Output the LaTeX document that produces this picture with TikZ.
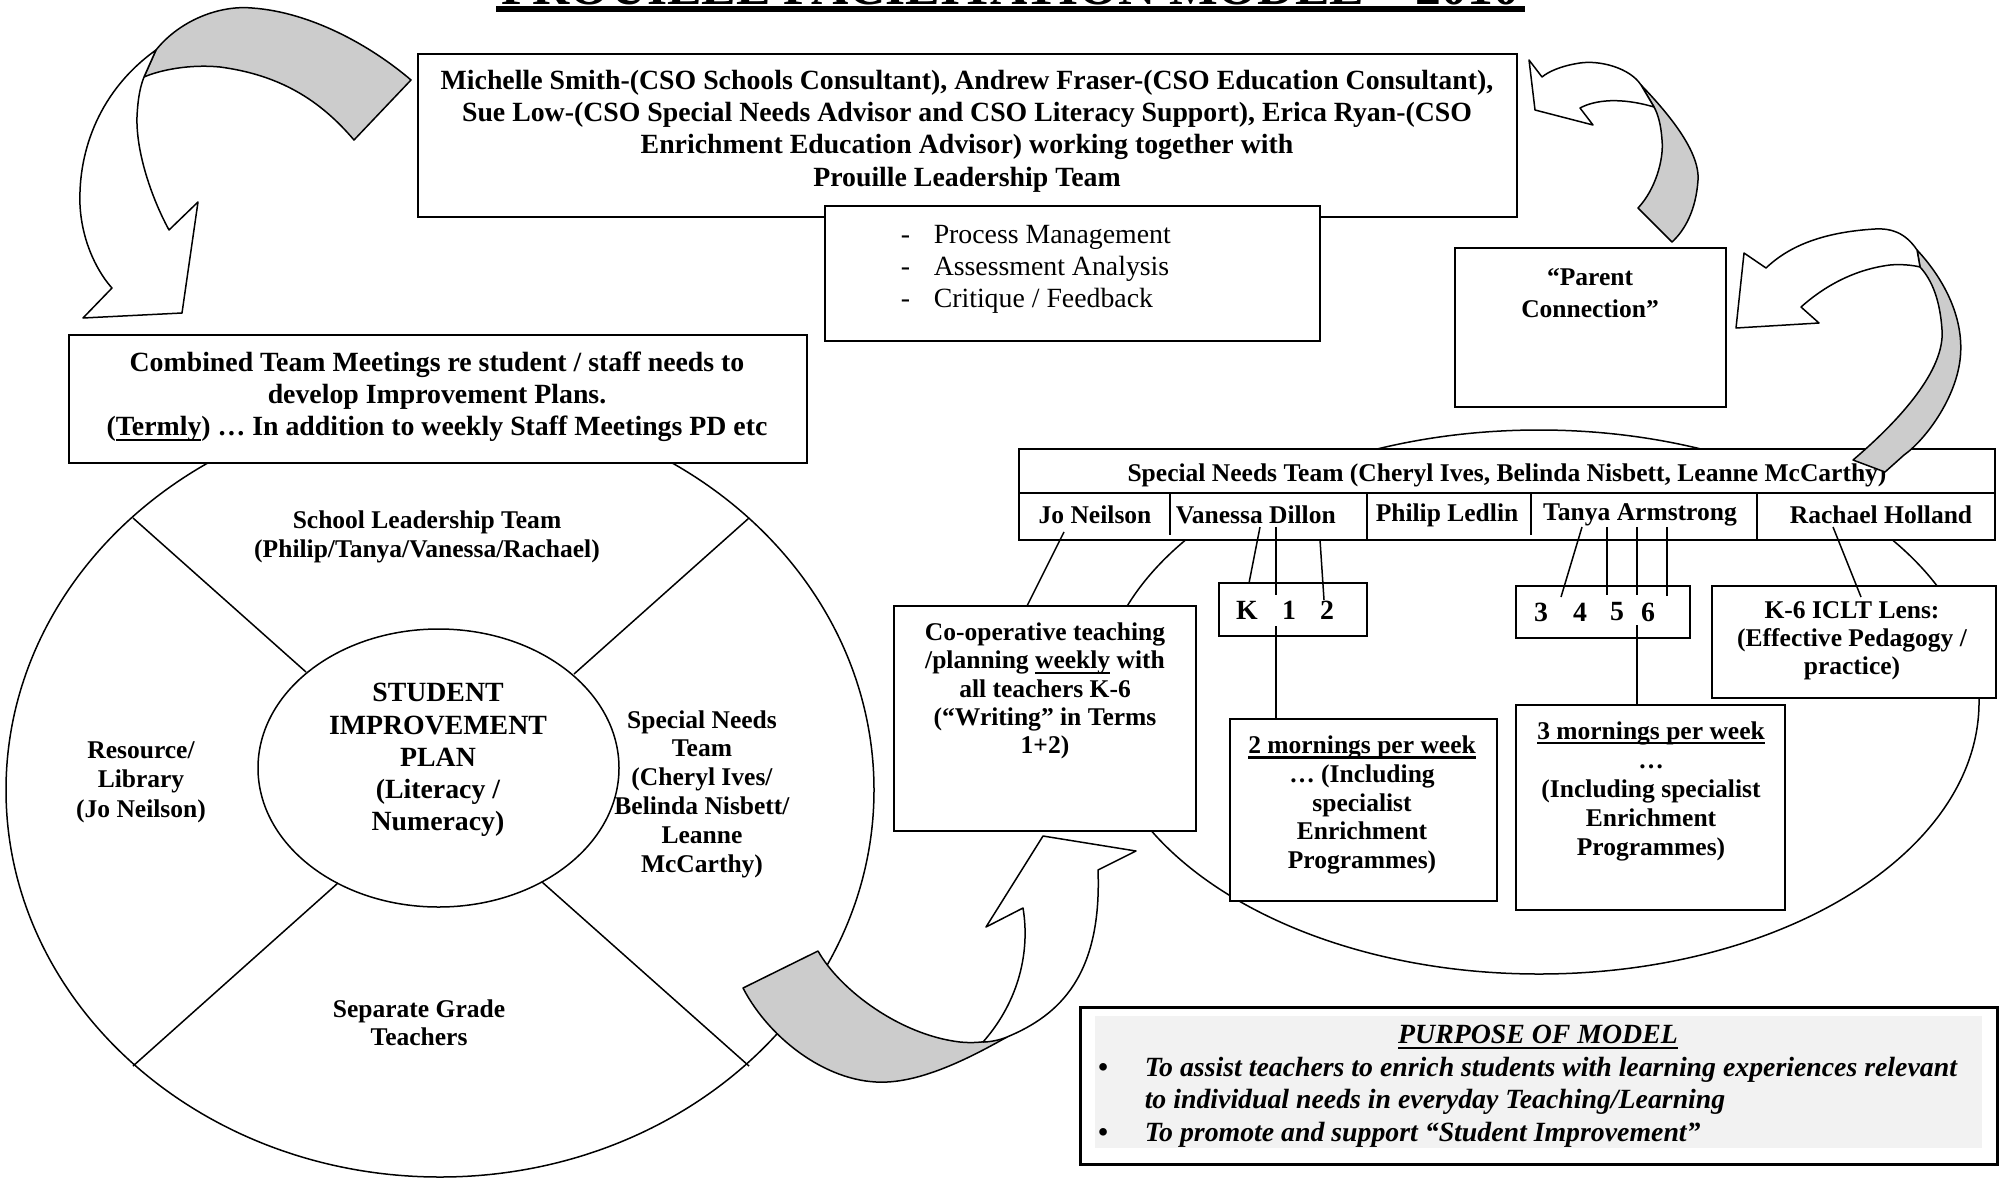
\documentclass[tikz,border=0pt]{standalone}
\usepackage{fontspec}
\setmainfont{Liberation Serif}
\usetikzlibrary{fit}

\definecolor{flapgray}{RGB}{204,204,204}
\definecolor{panelgray}{RGB}{242,242,242}

% underline with a rule of fixed weight
\newsavebox{\ulnbox}
\newcommand{\uln}[1]{\leavevmode\sbox{\ulnbox}{#1}\rlap{\rule[-2.6pt]{\wd\ulnbox}{1.1pt}}\usebox{\ulnbox}}

\tikzset{every picture/.style={line width=0.75pt}}
\tikzset{
  box/.style={draw, fill=white, line width=1pt, inner sep=0pt},
  lbl/.style={inner sep=0pt, align=center, font=\fontsize{13.9}{#1}\selectfont\bfseries},
  lbl/.default={14.5},
  lbs/.style={inner sep=0pt, align=center, font=\fontsize{12.76}{#1}\selectfont\bfseries},
  lbs/.default={14.5},
  plain/.style={inner sep=0pt, align=left, font=\fontsize{13.9}{16}\selectfont},
  aim/.style={inner sep=0pt, align=left, font=\fontsize{13.9}{16.25}\selectfont\bfseries\itshape},
  flapfront/.style={draw, fill=white, line width=0.75pt, line join=round},
  flapback/.style={draw, fill=flapgray, line width=0.75pt, line join=round},
}

\begin{document}
\begin{tikzpicture}[x=0.5pt,y=0.5pt,yscale=-1,xscale=1]
\useasboundingbox (0,0) rectangle (2005,1178);

%Shape: Ellipse [special needs ring]
\draw (1539,702) ellipse [x radius=440, y radius=272];

%Shape: Ellipse [school ring]
\draw (440,790) ellipse [x radius=434, y radius=387];
%Straight Lines [ring spokes]
\draw (133,518) -- (306,672);
\draw (749,518) -- (574,674);
\draw (133,1066) -- (338,883);
\draw (749,1066) -- (542,882);
%Shape: Ellipse [plan]
\draw (438.5,768) ellipse [x radius=180.5, y radius=139];

% Text Node
\draw (438,760) node (plan) [lbl=16.1] {STUDENT\\IMPROVEMENT\\PLAN\\(Literacy /\\Numeracy)};
% Text Node
\draw (427,537) node (slt) [lbs] {School Leadership Team\\(Philip/Tanya/Vanessa/Rachael)};
% Text Node
\draw (141,782) node (res) [lbs=14.75] {Resource/\\Library\\(Jo Neilson)};
% Text Node
\draw (702,794) node (snring) [lbs=14.4] {Special Needs\\Team\\(Cheryl Ives/\\Belinda Nisbett/\\Leanne\\McCarthy)};
% Text Node
\draw (419,1023) node (grade) [lbs=14] {Separate Grade\\Teachers};

%Shape: Rectangle [consultants]
\node [box, fit={(418,54) (1517,217)}] (lead) {};
\draw (967,131) node (leadtxt) [lbl=16.15] {Michelle Smith-(CSO Schools Consultant), Andrew Fraser-(CSO Education Consultant),\\Sue Low-(CSO Special Needs Advisor and CSO Literacy Support), Erica Ryan-(CSO\\Enrichment Education Advisor) working together with\\Prouille Leadership Team};

%Shape: Rectangle [tasks]
\node [box, fit={(825,206) (1320,341)}] (tasks) {};
\draw (900,269) node (taskstxt) [plain, anchor=west] {\makebox[16.5pt][l]{-}Process Management\\\makebox[16.5pt][l]{-}Assessment Analysis\\\makebox[16.5pt][l]{-}Critique / Feedback};

%Shape: Rectangle [parent]
\node [box, fit={(1455,248) (1726,407)}] (parent) {};
\draw (1590,293) node (parenttxt) [lbs=16] {“Parent\\Connection”};

%Shape: Rectangle [meetings]
\node [box, fit={(69,335) (807,463)}] (meet) {};
\draw (437,397) node (meettxt) [lbl=16] {Combined Team Meetings re student / staff needs to\\develop Improvement Plans.\\(\uln{Termly}) … In addition to weekly Staff Meetings PD etc};

%Shape: Table [special needs team]
\node [box, fit={(1019,449) (1995,540)}] (team) {};
\draw [line width=1pt] (1019,493) -- (1995,493);
\draw [line width=1pt] (1170,493) -- (1170,535) (1367,493) -- (1367,540) (1531,493) -- (1531,535) (1757,493) -- (1757,540);
% Text Node
\draw (1507,475) node (teamtxt) [lbs] {Special Needs Team (Cheryl Ives, Belinda Nisbett, Leanne McCarthy)};
\draw (1095,515) node (jo) [lbs] {Jo Neilson};
\draw (1175,515) node (vd) [lbs, anchor=west] {Vanessa Dillon};
\draw (1447,515) node (pl) [lbs] {Philip Ledlin};
\draw (1640,515) node (ta) [lbs] {Tanya Armstrong};
\draw (1881,515) node (rh) [lbs] {Rachael Holland};

%Shape: Rectangle [co-op]
\node [box, fit={(894,606) (1196,831)}] (coop) {};
\draw (1045,691) node (cooptxt) [lbs=14.2] {Co-operative teaching\\/planning \uln{weekly} with\\all teachers K-6\\(“Writing” in Terms\\1+2)};

%Shape: Rectangle [K-2]
\node [box, fit={(1219,583) (1367,636)}] (k12) {};
\draw (1247,610) node (gk) [lbl] {K};
\draw (1289,610) node (g1) [lbl] {1};
\draw (1327,610) node (g2) [lbl] {2};

%Shape: Rectangle [3-6]
\node [box, fit={(1516,586) (1690,638)}] (g36) {};
\draw (1541,612) node (g3) [lbl] {3};
\draw (1580,612) node (g4) [lbl] {4};
\draw (1617,612) node (g5) [lbl] {5};
\draw (1648,612) node (g6) [lbl] {6};

%Shape: Rectangle [lens]
\node [box, fit={(1712,586) (1996,698)}] (lens) {};
\draw (1852,641) node (lenstxt) [lbs=14] {K-6 ICLT Lens:\\(Effective Pedagogy /\\practice)};

%Shape: Rectangle [2 mornings]
\node [box, fit={(1230,719) (1497,901)}] (morn2) {};
\draw (1362,805) node (morn2txt) [lbs=14.4] {\uln{2 mornings per week}\\… (Including\\specialist\\Enrichment\\Programmes)};

%Shape: Rectangle [3 mornings]
\node [box, fit={(1516,705) (1785,910)}] (morn3) {};
\draw (1651,791) node (morn3txt) [lbs=14.5] {\uln{3 mornings per week}\\…\\(Including specialist\\Enrichment\\Programmes)};

%Straight Lines [links]
\coordinate (jo-a) at (1064,532);  \coordinate (jo-b) at (1027,606);
\coordinate (vk-a) at (1260,527);  \coordinate (vk-b) at (1249,583);
\coordinate (v1-a) at (1276,527);  \coordinate (v1-b) at (1276,595);
\coordinate (v2-a) at (1320,540);  \coordinate (v2-b) at (1324,600);
\coordinate (m2-a) at (1276,626);  \coordinate (m2-b) at (1276,719);
\coordinate (t3-a) at (1582,527);  \coordinate (t3-b) at (1561,597);
\coordinate (t4-a) at (1607,527);  \coordinate (t4-b) at (1607,595);
\coordinate (t5-a) at (1637,527);  \coordinate (t5-b) at (1637,595);
\coordinate (t6-a) at (1667,527);  \coordinate (t6-b) at (1667,596);
\coordinate (m3-a) at (1637,625);  \coordinate (m3-b) at (1637,705);
\coordinate (rl-a) at (1833,527);  \coordinate (rl-b) at (1861,597);
\draw (jo-a) -- (jo-b);
\draw (vk-a) -- (vk-b);
\draw (v1-a) -- (v1-b);
\draw (v2-a) -- (v2-b);
\draw (m2-a) -- (m2-b);
\draw (t3-a) -- (t3-b);
\draw (t4-a) -- (t4-b);
\draw (t5-a) -- (t5-b);
\draw (t6-a) -- (t6-b);
\draw (m3-a) -- (m3-b);
\draw (rl-a) -- (rl-b);

%Curved Arrow [down to meetings]
\draw [flapback] (156,50) .. controls (180,20) and (220,5) .. (252,8) .. controls (310,12) and (370,45) .. (411,80) -- (354,140) .. controls (320,100) and (280,75) .. (220,67) .. controls (190,64) and (160,70) .. (144,77) -- cycle;
\draw [flapfront] (156,50) .. controls (100,90) and (78,150) .. (80,205) .. controls (82,245) and (100,275) .. (112,288) -- (83,318) -- (182,313) -- (198,202) -- (169,230) .. controls (150,195) and (136,150) .. (137,117) .. controls (138,95) and (141,85) .. (144,77) -- cycle;

%Curved Arrow [parent to consultants]
\draw [flapback] (1641,85) .. controls (1665,110) and (1700,150) .. (1698,180) .. controls (1696,210) and (1685,230) .. (1672,242) -- (1638,208) .. controls (1655,190) and (1664,160) .. (1662,140) .. controls (1661,125) and (1658,114) .. (1654,107) -- cycle;
\draw [flapfront] (1641,85) .. controls (1630,68) and (1600,60) .. (1580,63) .. controls (1560,66) and (1548,72) .. (1542,77) -- (1529,60) -- (1535,110) -- (1593,125) -- (1580,108) .. controls (1595,100) and (1620,97) .. (1654,107) -- cycle;

%Curved Arrow [team to parent]
\draw [flapback] (1917,250) .. controls (1945,280) and (1965,320) .. (1960,360) .. controls (1955,400) and (1925,440) .. (1904,455) -- (1885,472) -- (1853,460) .. controls (1900,420) and (1945,370) .. (1942,330) .. controls (1940,300) and (1932,280) .. (1920,267) -- cycle;
\draw [flapfront] (1917,250) .. controls (1905,232) and (1890,228) .. (1875,229) .. controls (1825,232) and (1790,245) .. (1766,268) -- (1744,253) -- (1736,328) -- (1819,323) -- (1801,307) .. controls (1820,290) and (1850,270) .. (1890,265) .. controls (1900,264) and (1912,265) .. (1920,267) -- cycle;

%Curved Arrow [ring to co-op]
\draw [flapback] (743,988) -- (818,951) .. controls (840,990) and (900,1035) .. (960,1042) .. controls (980,1044) and (995,1040) .. (1007,1037) .. controls (980,1052) and (930,1080) .. (887,1082) .. controls (830,1085) and (770,1040) .. (743,988) -- cycle;
\draw [flapfront] (1007,1037) .. controls (1060,1015) and (1102,975) .. (1098,870) -- (1136,851) -- (1043,836) -- (986,927) -- (1023,908) .. controls (1030,950) and (1020,1000) .. (983,1042) .. controls (990,1042) and (1000,1040) .. (1007,1037) -- cycle;

%Shape: Rectangle [purpose]
\node [box, line width=1.5pt, fit={(1080,1007) (1997,1164)}] (purpose) {};
\fill [panelgray] (1095,1016) rectangle (1982,1148);
% Text Node
\draw (1538,1037) node (purposetxt) [aim] {\uln{PURPOSE OF MODEL}};
\draw (1103,1070) node (dot1) [aim] {•};
\draw (1103,1135) node (dot2) [aim] {•};
\draw (1144,1086) node (aim1) [aim, anchor=west] {To assist teachers to enrich students with learning experiences relevant\\to individual needs in everyday Teaching/Learning};
\draw (1144,1135) node (aim2) [aim, anchor=west] {To promote and support “Student Improvement”};

%Title [cut at top edge]
\draw (1010,4) node (title) [anchor=base, inner sep=0pt, font=\fontsize{25.8}{30}\selectfont\bfseries] {PROUILLE FACILITATION MODEL – 2010};
\fill (496,6) rectangle (1525,12);

\end{tikzpicture}
\end{document}
